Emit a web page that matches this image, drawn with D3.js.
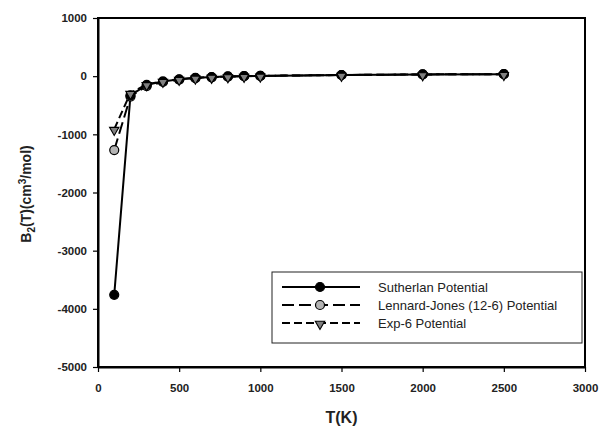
<!DOCTYPE html>
<html><head><meta charset="utf-8">
<script src="https://cdn.jsdelivr.net/npm/d3@7"></script>
<style>body{margin:0;background:#fff}svg{display:block}text{font-family:Arial,"Liberation Sans",sans-serif}</style>
</head><body>
<svg id="c" width="608" height="426"></svg>
<script>
const temps = [100,200,300,400,500,600,700,800,900,1000,1500,2000,2500];
const sutherland = [-3760,-330,-150,-90,-55,-30,-15,-5,0,5,20,30,35];
const lennardJones = [-1270,-350,-170,-100,-60,-35,-20,-8,0,5,20,30,35];
const exp6 = [-910,-290,-140,-85,-50,-28,-14,-4,2,6,20,30,35];
const xTicks = [0,500,1000,1500,2000,2500,3000];
const yTicks = [1000,0,-1000,-2000,-3000,-4000,-5000];
const seriesNames = ["Sutherlan Potential","Lennard-Jones (12-6) Potential","Exp-6 Potential"];

const svg = d3.select("#c");
const L=98,R=585,T=18,B=367;
const x = d3.scaleLinear().domain([0,3000]).range([L,R]);
const y = d3.scaleLinear().domain([-5000,1000]).range([B,T]);
const fmt = d => String(d);

svg.append("rect").attr("x",L).attr("y",T).attr("width",R-L).attr("height",B-T)
  .attr("fill","none").attr("stroke","#000").attr("stroke-width",2);

const xa = svg.append("g").attr("transform",`translate(0,${B})`)
  .call(d3.axisBottom(x).tickValues(xTicks).tickSize(5).tickSizeOuter(0).tickPadding(6).tickFormat(fmt));
const ya = svg.append("g").attr("transform",`translate(${L},0)`)
  .call(d3.axisLeft(y).tickValues(yTicks).tickSize(5).tickSizeOuter(0).tickPadding(6).tickFormat(fmt));
[xa,ya].forEach(a=>{
  a.select(".domain").attr("stroke-width",2);
  a.selectAll(".tick line").attr("stroke-width",1.2);
  a.selectAll("text").attr("font-size",11.5).attr("font-weight","bold").attr("fill","#222");
});
xa.selectAll("text").attr("dy","1.2em");

svg.append("text").attr("x",(L+R)/2).attr("y",423).attr("text-anchor","middle")
  .attr("font-size",16).attr("font-weight","bold").attr("fill","#222").text("T(K)");
const yt = svg.append("text").attr("transform","translate(31,194) rotate(-90)")
  .attr("text-anchor","middle").attr("font-size",14).attr("font-weight","bold").attr("fill","#222");
yt.append("tspan").text("B");
yt.append("tspan").attr("font-size",10).attr("dy",4).text("2");
yt.append("tspan").attr("dy",-4).text("(T)(cm");
yt.append("tspan").attr("font-size",10).attr("dy",-5).text("3");
yt.append("tspan").attr("dy",5).text("/mol)");

const series = [
  {vals:sutherland, dash:null, marker:"circle", fill:"#000"},
  {vals:lennardJones, dash:"12,5", marker:"circle", fill:"#b4b4b4"},
  {vals:exp6, dash:"8,4", marker:"triangle", fill:"#808080"}
];
const line = d3.line().x(d=>x(d[0])).y(d=>y(d[1]));
function drawMarker(g, type, fill, cx, cy){
  if(type==="circle"){
    g.append("circle").attr("cx",cx).attr("cy",cy).attr("r",4.5)
      .attr("fill",fill).attr("stroke","#000").attr("stroke-width",1.2);
  } else {
    g.append("path").attr("d",d3.symbol(d3.symbolTriangle,38)())
      .attr("transform",`translate(${cx},${cy+1}) rotate(180)`)
      .attr("fill",fill).attr("stroke","#000").attr("stroke-width",1.1);
  }
}
series.forEach(s=>{
  const pts = temps.map((t,i)=>[t,s.vals[i]]);
  svg.append("path").attr("d",line(pts)).attr("fill","none").attr("stroke","#000")
    .attr("stroke-width",2).attr("stroke-dasharray",s.dash);
});
[1,0,2].forEach(k=>{
  const s = series[k];
  const g = svg.append("g");
  temps.forEach((t,i)=>drawMarker(g,s.marker,s.fill,x(t),y(s.vals[i])));
});

const lg = svg.append("g");
lg.append("rect").attr("x",272).attr("y",272).attr("width",310).attr("height",71)
  .attr("fill","#fff").attr("stroke","#222").attr("stroke-width",1);
const ly = [287,305,323];
series.forEach((s,i)=>{
  lg.append("line").attr("x1",282).attr("x2",360).attr("y1",ly[i]).attr("y2",ly[i])
    .attr("stroke","#000").attr("stroke-width",2).attr("stroke-dasharray",s.dash);
  drawMarker(lg,s.marker,s.fill,320,ly[i]);
  lg.append("text").attr("x",378).attr("y",ly[i]).attr("dy","0.35em")
    .attr("font-size",13).attr("fill","#222").text(seriesNames[i]);
});
</script>
</body></html>
